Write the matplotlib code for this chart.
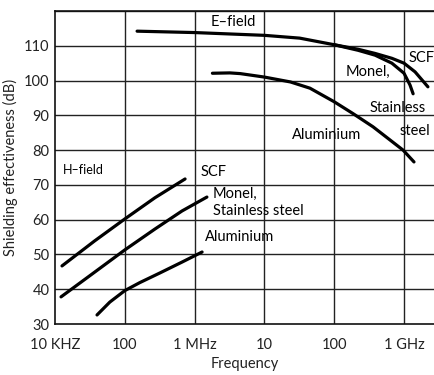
import matplotlib
matplotlib.use("Agg")
import matplotlib.pyplot as plt

plt.rcParams['font.family'] = ['Lato', 'DejaVu Sans']

# E-field curves (frequency in Hz, shielding in dB)
e_scf_f = [1.5e5, 1e6, 1e7, 3.2e7, 1e8, 2.2e8, 3.85e8, 6.7e8, 1e9, 1.44e9, 2.2e9]
e_scf_db = [114.2, 113.8, 113.0, 112.2, 110.3, 109.0, 107.8, 106.4, 105.0, 102.5, 98.2]
e_monel_f = [1e8, 2.2e8, 3.85e8, 6.7e8, 1e9, 1.22e9, 1.35e9]
e_monel_db = [110.3, 108.7, 107.3, 105.0, 102.1, 98.7, 96.2]
e_alu_f = [1.8e6, 3.2e6, 4.5e6, 1e7, 2.36e7, 4.5e7, 1e8, 1.86e8, 3.6e8, 9.7e8, 1.39e9]
e_alu_db = [102.1, 102.2, 102.0, 101.0, 99.6, 97.8, 93.9, 90.5, 86.7, 80.0, 76.6]

# H-field curves
h_scf_f = [1.26e4, 3.7e4, 1e5, 2.7e5, 7.3e5]
h_scf_db = [46.7, 53.9, 60.2, 66.3, 71.7]
h_monel_f = [1.22e4, 2.97e4, 1e5, 2.7e5, 6.6e5, 1.5e6]
h_monel_db = [37.8, 43.5, 51.3, 57.3, 62.5, 66.5]
h_alu_f = [4.0e4, 6.1e4, 1e5, 1.64e5, 3.2e5, 6.6e5, 1.28e6]
h_alu_db = [32.6, 36.3, 39.6, 41.9, 44.7, 47.8, 50.7]

xticks = [1e4, 1e5, 1e6, 1e7, 1e8, 1e9]
xticklabels = ['10 KHZ', '100', '1 MHz', '10', '100', '1 GHz']
yticks = [30, 40, 50, 60, 70, 80, 90, 100, 110]

fig = plt.figure(figsize=(4.35, 3.75), dpi=100)
ax = fig.add_axes([55/435, 1-324/375, 1-55/435, 313/375])

curves = [(e_scf_f, e_scf_db), (e_monel_f, e_monel_db), (e_alu_f, e_alu_db),
          (h_scf_f, h_scf_db), (h_monel_f, h_monel_db), (h_alu_f, h_alu_db)]
for f, db in curves:
    ax.plot(f, db, color='black', linewidth=2.3, solid_capstyle='round',
            solid_joinstyle='round', zorder=3)

ax.set_xscale('log')
ax.set_xlim(1e4, 10**9.444)
ax.set_ylim(30, 120)
ax.set_xticks(xticks)
ax.set_xticklabels(xticklabels)
ax.minorticks_off()
ax.set_yticks(yticks)
ax.tick_params(length=0, labelsize=10.5, colors='#222222')
ax.tick_params(axis='x', pad=10)
ax.tick_params(axis='y', pad=4)

for x in xticks[1:]:
    ax.axvline(x, color='#222222', linewidth=1.0, zorder=1)
for y in yticks[1:] + [120]:
    ax.axhline(y, color='#222222', linewidth=1.0, zorder=1)

ax.spines['right'].set_visible(False)
for s in ['top', 'left', 'bottom']:
    ax.spines[s].set_color('#111111')
    ax.spines[s].set_linewidth(1.2)

ax.set_xlabel('Frequency', fontsize=10.5, color='#222222', labelpad=4)
ax.set_ylabel('Shielding effectiveness (dB)', fontsize=10.5, color='#222222', labelpad=4)

fs = 10.5
ax.text(7.6e6, 116.8, 'E\u2013field', ha='right', va='center', fontsize=fs)
ax.text(1.18e9, 106.4, 'SCF', ha='left', va='center', fontsize=fs)
ax.text(1.48e8, 102.4, 'Monel,', ha='left', va='center', fontsize=fs)
ax.text(3.2e8, 92.2, 'Stainless', ha='left', va='center', fontsize=fs)
ax.text(8.5e8, 85.6, 'steel', ha='left', va='center', fontsize=fs)
ax.text(2.5e7, 84.3, 'Aluminium', ha='left', va='center', fontsize=fs)

ax.text(1.3e4, 74.3, 'H\u2013field', ha='left', va='center', fontsize=9)
ax.text(1.2e6, 73.7, 'SCF', ha='left', va='center', fontsize=fs)
ax.text(1.84e6, 67.4, 'Monel,', ha='left', va='center', fontsize=fs)
ax.text(1.84e6, 62.5, 'Stainless steel', ha='left', va='center', fontsize=fs)
ax.text(1.41e6, 55.0, 'Aluminium', ha='left', va='center', fontsize=fs)

fig.savefig('out.png', dpi=100)
